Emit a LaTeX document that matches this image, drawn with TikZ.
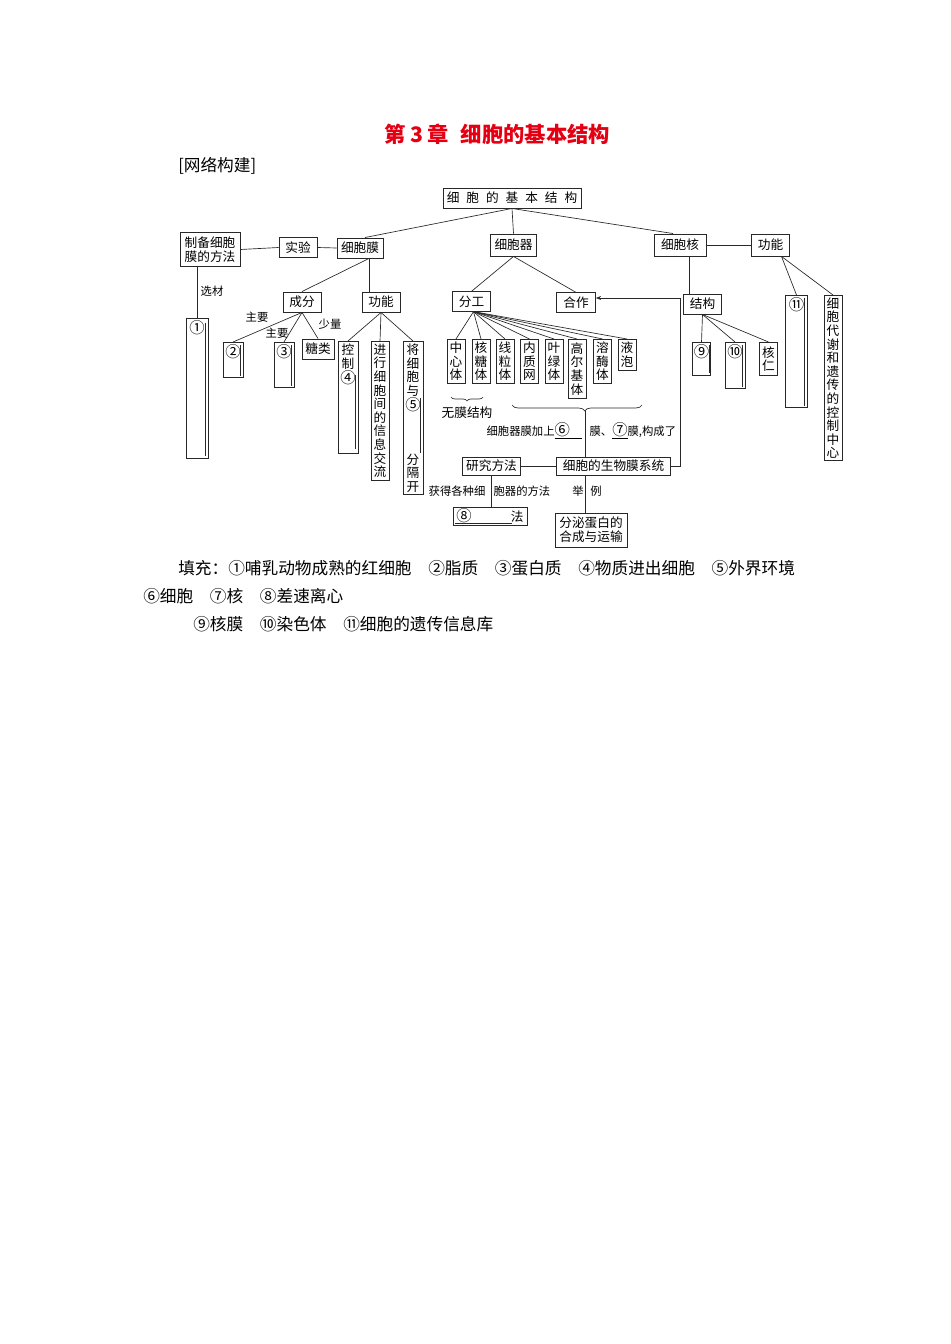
\documentclass[tikz,border=0pt]{standalone}
\usepackage{fontspec}
\setmainfont{Noto Sans CJK SC}
\usepackage{xcolor}
\usetikzlibrary{arrows.meta, calc, decorations.pathreplacing}
\definecolor{titlered}{RGB}{228,0,18}
\definecolor{inkgray}{RGB}{40,40,40}

\newcommand{\boxfont}{\fontsize{9.5pt}{10.2pt}\selectfont}
\newcommand{\labfont}{\fontsize{8.5pt}{10pt}\selectfont}
\newcommand{\bodyfont}{\fontsize{12.5pt}{15pt}\selectfont}
\newcommand{\cnum}[1]{{\fontsize{11.5pt}{10.2pt}\selectfont #1}}

\begin{document}
\begin{tikzpicture}[x=0.75pt, y=-0.75pt,
    box/.style={draw=inkgray, line width=0.7pt, inner sep=1pt, font=\boxfont, align=center},
    vbox/.style={draw=inkgray, line width=0.7pt, anchor=north, inner xsep=2pt, inner ysep=1pt, text width=9.5pt, align=center, font=\boxfont},
    tall/.style={draw=inkgray, line width=0.7pt, anchor=north, inner sep=0pt},
    toplab/.style={anchor=north, align=center, font=\boxfont, inner sep=2pt},
    lab/.style={font=\labfont, inner sep=1pt},
    conn/.style={draw=inkgray, line width=0.5pt},
    blank/.style={draw=inkgray, line width=0.5pt},
    arr/.style={conn, -{Stealth[length=4pt, width=3pt]}},
    brace/.style={conn, decorate, decoration={brace, mirror, amplitude=4.5pt}}
]
\path[fill=white, use as bounding box] (0,0) rectangle (950,1344);

% heading
\node[font=\fontsize{16pt}{18pt}\selectfont\bfseries, text=titlered, inner sep=0pt] (title) at (497.5,134) {第\hspace{0.2em}3\hspace{0.2em}章\hspace{0.55em}细胞的基本结构};
\node[anchor=west, inner sep=0pt, font=\bodyfont] (head) at (178,166) {[网络构建]};

% top levels
\node[box, minimum width=103.5pt, minimum height=15pt] (root) at (512,198) {细\hspace{0.55em}胞\hspace{0.55em}的\hspace{0.55em}基\hspace{0.55em}本\hspace{0.55em}结\hspace{0.55em}构};
\node[box, minimum width=45pt, minimum height=26pt] (prep) at (210,249.5) {制备细胞\\膜的方法};
\node[box, minimum width=28.5pt, minimum height=14.5pt] (expt) at (298,247.5) {实验};
\node[box, minimum width=34.5pt, minimum height=15pt] (memb) at (360,248) {细胞膜};
\node[box, minimum width=35pt, minimum height=16.5pt] (orgl) at (513.5,245) {细胞器};
\node[box, minimum width=39pt, minimum height=16.5pt] (nucl) at (680,245) {细胞核};
\node[box, minimum width=29pt, minimum height=16.5pt] (nfunc) at (770.5,245) {功能};

% second level
\node[box, minimum width=28.5pt, minimum height=15pt] (comp) at (302,302) {成分};
\node[box, minimum width=28.5pt, minimum height=15pt] (mfunc) at (381,302) {功能};
\node[box, minimum width=29pt, minimum height=14.5pt] (divi) at (471.5,301.5) {分工};
\node[box, minimum width=29pt, minimum height=14.5pt] (coop) at (576,302.5) {合作};
\node[box, minimum width=29pt, minimum height=15pt] (nstru) at (702.5,304) {结构};

% membrane branch
\node[tall, minimum width=16.5pt, minimum height=105pt, label={[toplab]north:\cnum{①}}] (blank1) at (197,318) {};
\node[tall, minimum width=15pt, minimum height=26pt, label={[toplab]north:\cnum{②}}] (blank2) at (233,342) {};
\node[tall, minimum width=15pt, minimum height=34pt, label={[toplab]north:\cnum{③}}] (blank3) at (284,342) {};
\node[box, minimum width=24pt, minimum height=15pt] (sugar) at (318,349) {糖类};
\node[tall, minimum width=15pt, minimum height=84pt, label={[toplab]north:控\\制\\\cnum{④}}] (blank4) at (348,341) {};
\node[vbox, minimum height=104pt] (signal) at (380,341) {进\\行\\细\\胞\\间\\的\\信\\息\\交\\流};
\node[tall, minimum width=15pt, minimum height=115pt, label={[toplab]north:将\\细\\胞\\与\\\cnum{⑤}}, label={[toplab, anchor=south]south:分\\隔\\开}] (blank5) at (413,341) {};

% organelles
\node[vbox, minimum height=33pt] (cent) at (456,339) {中\\心\\体};
\node[vbox, minimum height=33pt] (ribo) at (481,339) {核\\糖\\体};
\node[vbox, minimum height=33pt] (mito) at (505,339) {线\\粒\\体};
\node[vbox, minimum height=33pt] (er) at (529.5,339) {内\\质\\网};
\node[vbox, minimum height=33pt] (chlo) at (554,339) {叶\\绿\\体};
\node[vbox, minimum height=44pt] (golgi) at (577,339) {高\\尔\\基\\体};
\node[vbox, minimum height=33pt] (lyso) at (602.5,339) {溶\\酶\\体};
\node[vbox, minimum height=23pt] (vacu) at (627,339) {液\\泡};

% nucleus branch
\node[tall, minimum width=14pt, minimum height=25pt, label={[toplab]north:\cnum{⑨}}] (blank9) at (701.5,342) {};
\node[tall, minimum width=15pt, minimum height=34.5pt, label={[toplab]north:\cnum{⑩}}] (blank10) at (735,342) {};
\node[vbox, minimum height=25pt] (nucleo) at (768.5,342) {核\\仁};
\node[tall, minimum width=16pt, minimum height=84pt, label={[toplab]north:\cnum{⑪}}] (blank11) at (796.5,295) {};
\node[vbox, minimum height=124pt] (ctrl) at (833,295) {细\\胞\\代\\谢\\和\\遗\\传\\的\\控\\制\\中\\心};

% membrane system
\node[box, minimum width=44pt, minimum height=13.5pt] (rmeth) at (491.5,466) {研究方法};
\node[box, minimum width=85pt, minimum height=13.5pt] (biosys) at (613.5,466) {细胞的生物膜系统};
\node[box, minimum width=55.5pt, minimum height=13.5pt] (blank8) at (490,516) {\cnum{⑧}\hspace{3.1em}法};
\node[box, minimum width=54pt, minimum height=25.5pt] (secr) at (591,530) {分泌蛋白的\\合成与运输};

% fill-in blanks
\draw[blank] ($(blank1.north east)+(-3,5)$) -- ($(blank1.south east)+(-3,-3)$);
\draw[blank] ($(blank2.north east)+(-3,3)$) -- ($(blank2.south east)+(-3,-2)$);
\draw[blank] ($(blank3.north east)+(-3,3)$) -- ($(blank3.south east)+(-3,-2)$);
\draw[blank] ($(blank4.north east)+(-3,34)$) -- ($(blank4.south east)+(-3,-5)$);
\draw[blank] ($(blank5.north east)+(-3,57)$) -- ($(blank5.south east)+(-3,-42)$);
\draw[blank] ($(blank9.north east)+(-2,3)$) -- ($(blank9.south east)+(-2,-3)$);
\draw[blank] ($(blank10.north east)+(-3,3)$) -- ($(blank10.south east)+(-3,-2)$);
\draw[blank] ($(blank11.north east)+(-3,3)$) -- ($(blank11.south east)+(-3,-2)$);
\draw[blank] ($(blank8.south west)+(2,-2)$) -- ($(blank8.south west)+(59,-2)$);

% connectors
\draw[conn] (root.south) -- ($(memb.north)+(5,0)$);
\draw[conn] (root.south) -- (orgl.north);
\draw[conn] (root.south) -- ($(nucl.north)+(-7,0)$);
\draw[conn] (prep.east) -- (expt.west);
\draw[conn] (expt.east) -- (memb.west);
\draw[conn] (prep.south -| blank1.north) -- (blank1.north);
\node[lab] (lsel) at (212,291) {选材};

\coordinate (membfoot) at ($(memb.south)+(9,0)$);
\draw[conn] (membfoot) -- (comp.north);
\draw[conn] (membfoot) -- (membfoot |- mfunc.north);
\draw[conn] (comp.south) -- (blank2.north);
\draw[conn] (comp.south) -- (blank3.north);
\draw[conn] (comp.south) -- (sugar.north);
\node[lab] (lmain1) at (257,317) {主要};
\node[lab] (lmain2) at (277,333) {主要};
\node[lab] (lfew) at (330,324) {少量};
\draw[conn] (mfunc.south) -- (blank4.north);
\draw[conn] (mfunc.south) -- (signal.north);
\draw[conn] (mfunc.south) -- (blank5.north);

\draw[conn] (orgl.south) -- (divi.north);
\draw[conn] (orgl.south) -- (coop.north);
\coordinate (fan) at ($(divi.south)+(2,0)$);
\draw[conn] (fan) -- (cent.north);
\draw[conn] (fan) -- (ribo.north);
\draw[conn] (fan) -- (mito.north);
\draw[conn] (fan) -- (er.north);
\draw[conn] (fan) -- (chlo.north);
\draw[conn] (fan) -- (golgi.north);
\draw[conn] (fan) -- (lyso.north);
\draw[conn] (fan) -- (vacu.north);

\coordinate (nuclfoot) at ($(nucl.south)+(9,0)$);
\draw[conn] (nucl.east) -- (nfunc.west);
\draw[conn] (nuclfoot) -- (nuclfoot |- nstru.north);
\draw[conn] (nstru.south) -- (blank9.north);
\draw[conn] (nstru.south) -- (blank10.north);
\draw[conn] (nstru.south) -- (nucleo.north);
\coordinate (nfuncfoot) at ($(nfunc.south)+(11,0)$);
\draw[conn] (nfuncfoot) -- (blank11.north);
\draw[conn] (nfuncfoot) -- (ctrl.north);

% braces and membrane system
\draw[brace, decoration={amplitude=3pt}] (451,397) -- (483,397);
\node[box, draw=none] (nomem) at (467,413) {无膜结构};
\draw[brace, decoration={aspect=0.56}] (512,405) -- (642,405);
\coordinate (tip) at (585,411);
\node[lab, anchor=east] (lmema) at (584,431) {细胞器膜加上\underline{\cnum{⑥}\hspace{1.1em}}};
\node[lab, anchor=west] (lmemb) at (588,431) {膜、\underline{\cnum{⑦}}膜,构成了};
\draw[conn] (tip) -- (tip |- biosys.north);
\draw[conn] (rmeth.east) -- (biosys.west);
\draw[conn] (rmeth.south) -- (rmeth.south |- blank8.north);
\node[lab, anchor=east] (lgeta) at (487,491) {获得各种细};
\node[lab, anchor=west] (lgetb) at (492,491) {胞器的方法};
\draw[conn] (tip |- biosys.south) -- (tip |- secr.north);
\node[lab] (lexam) at (587,491) {举\hspace{0.6em}例};
\coordinate (rbend) at (680,298);
\draw[arr] (biosys.east) -| (rbend) -- (coop.east |- rbend);

% answers
\node[anchor=west, inner sep=0pt, font=\bodyfont] (fill1) at (178,568) {填充：①哺乳动物成熟的红细胞　②脂质　③蛋白质　④物质进出细胞　⑤外界环境};
\node[anchor=west, inner sep=0pt, font=\bodyfont] (fill2) at (143,596) {⑥细胞　⑦核　⑧差速离心};
\node[anchor=west, inner sep=0pt, font=\bodyfont] (fill3) at (193,624) {⑨核膜　⑩染色体　⑪细胞的遗传信息库};
\end{tikzpicture}
\end{document}
